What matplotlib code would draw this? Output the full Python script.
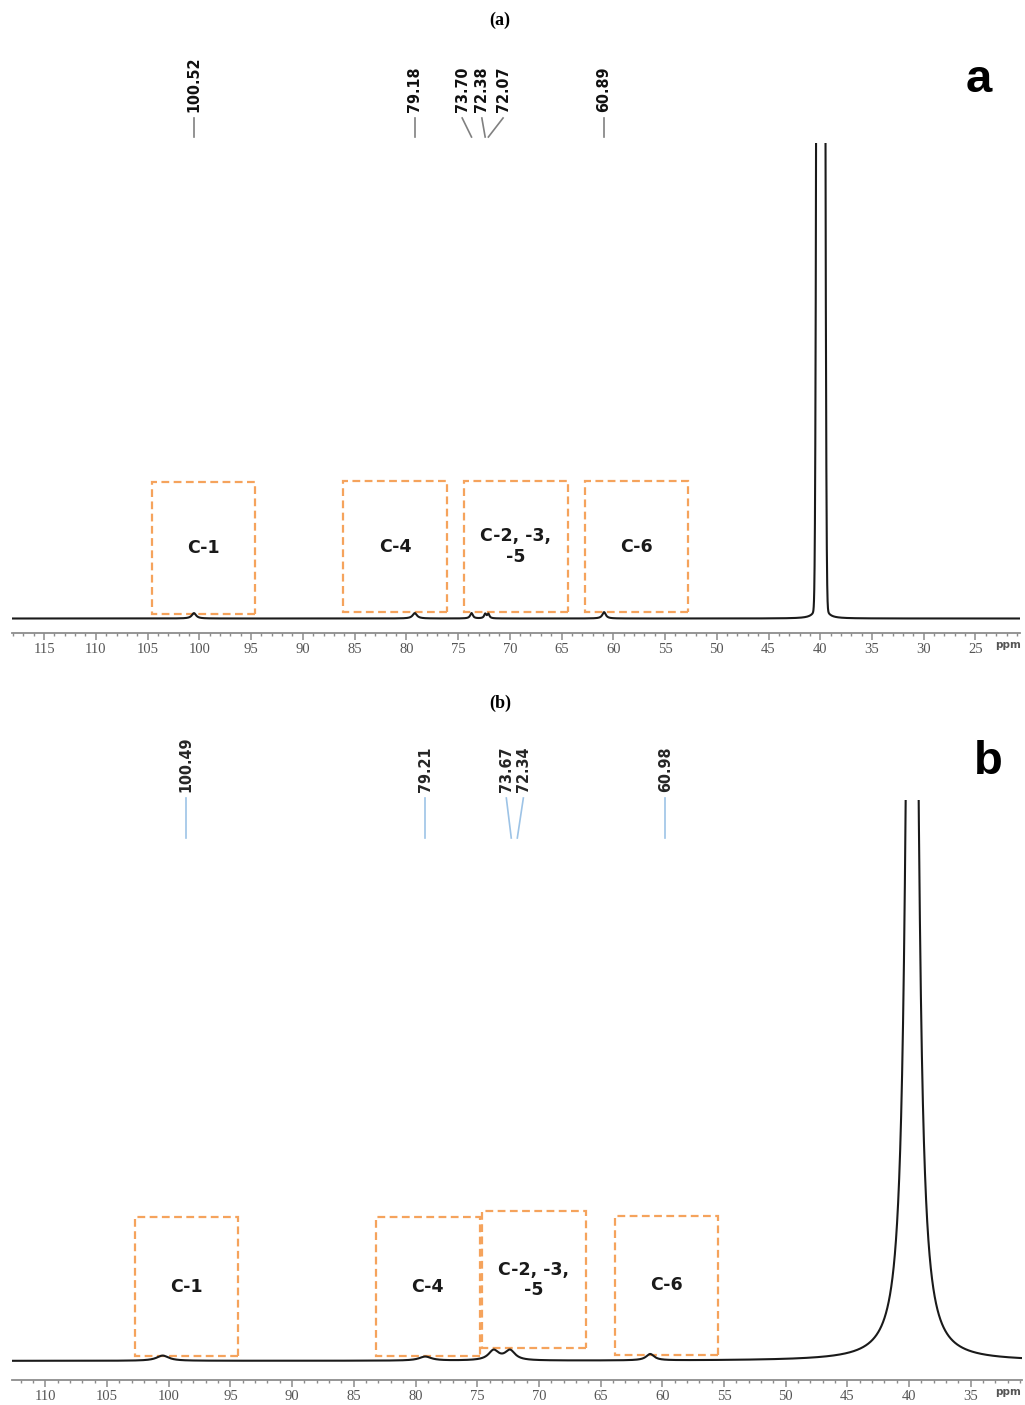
"""13C NMR spectra (a) and (b) with assignment boxes, redrawn from peak lists."""
import numpy as np
import matplotlib
matplotlib.use("Agg")
import matplotlib.pyplot as plt   # noqa: E402
from matplotlib.patches import Rectangle   # noqa: E402
from matplotlib.ticker import MultipleLocator   # noqa: E402
from matplotlib.transforms import blended_transform_factory   # noqa: E402

W, H = 1025, 1405

# ---- spectrum (a) ----
a_peaks = [100.52, 79.18, 73.70, 72.38, 72.07, 60.89]
a_heights = [0.011, 0.011, 0.011, 0.009, 0.009, 0.013]
a_widths = [0.25, 0.25, 0.15, 0.12, 0.12, 0.20]
# DMSO-d6 septet, sharp (gaussian lines) plus a small lorentzian foot
a_solvent_ppm = [40.34, 40.21, 40.08, 39.95, 39.82, 39.69, 39.56]
a_solvent_int = [0.73, 2.2, 4.4, 5.1, 4.4, 2.2, 0.73]
a_solvent_sigma = 0.10
a_foot_ppm, a_foot_h, a_foot_w = 39.95, 0.3, 0.15
a_labels = ["100.52", "79.18", "73.70", "72.38", "72.07", "60.89"]
a_label_x = [100.52, 79.18, 74.6, 72.7, 70.65, 60.89]
a_regions = ["C-1", "C-4", "C-2, -3,\n-5", "C-6"]
a_region_ppm = [(104.6, 94.6), (86.1, 76.1), (74.4, 64.4), (62.7, 52.8)]

# ---- spectrum (b) ----
b_peaks = [100.49, 79.21, 73.67, 72.34, 60.98]
b_heights = [0.009, 0.007, 0.017, 0.017, 0.011]
b_widths = [0.6, 0.6, 0.5, 0.5, 0.4]
# broadened DMSO-d6 septet (lorentzian lines)
b_solvent_ppm = [40.05, 39.95, 39.85, 39.75, 39.65, 39.55, 39.45]
b_solvent_int = [0.10, 0.29, 0.58, 0.68, 0.58, 0.29, 0.10]
b_solvent_w = 0.38
b_labels = ["100.49", "79.21", "73.67", "72.34", "60.98"]
b_label_x = [98.57, 79.2, 72.64, 71.26, 59.76]
b_label_end = [98.57, 79.2, 72.24, 71.75, 59.76]
b_regions = ["C-1", "C-4", "C-2, -3,\n-5", "C-6"]
b_region_ppm = [(102.7, 94.4), (83.2, 74.8), (74.6, 66.2), (63.8, 55.5)]

plt.rcParams["font.family"] = ["Liberation Serif", "DejaVu Serif"]

ORANGE = "#f5a35c"


def lorentz(x, centers, heights, widths):
    y = np.zeros_like(x)
    for c, h, w in zip(centers, heights, widths):
        y += h * w ** 2 / ((x - c) ** 2 + w ** 2)
    return y


def gauss(x, centers, heights, sigma):
    y = np.zeros_like(x)
    for c, h in zip(centers, heights):
        y += h * np.exp(-(x - c) ** 2 / (2 * sigma ** 2))
    return y


def px_rect(x0, y_top, x1, y_bot):
    return [x0 / W, 1 - y_bot / H, (x1 - x0) / W, (y_bot - y_top) / H]


def draw_panel(fig, rect, xlim, x, y, regions, region_ppm, region_y):
    ax = fig.add_axes(rect)
    ax.plot(x, y, color="#1a1a1a", lw=1.5)
    ax.set_xlim(*xlim)
    ax.set_ylim(0, 1)
    for s in ("top", "left", "right"):
        ax.spines[s].set_visible(False)
    ax.spines["bottom"].set_color("#8c8c8c")
    ax.spines["bottom"].set_linewidth(1.3)
    ax.set_yticks([])
    ax.xaxis.set_major_locator(MultipleLocator(5))
    ax.xaxis.set_minor_locator(MultipleLocator(1))
    ax.tick_params(axis="x", which="major", length=5, width=1.1, color="#8c8c8c",
                   labelsize=10.5, labelcolor="#555555", pad=2)
    ax.tick_params(axis="x", which="minor", length=2, width=1, color="#8c8c8c")
    ax.patch.set_alpha(0)

    tr = blended_transform_factory(ax.transData, ax.transAxes)
    for (lo_hi, lab, (y0, y1)) in zip(region_ppm, regions, region_y):
        hi, lo = lo_hi
        ax.add_patch(Rectangle((lo, y0), hi - lo, y1 - y0, transform=tr, fill=False,
                               ec=ORANGE, lw=1.6, ls=(0, (3.5, 2)), clip_on=False))
        ax.text((hi + lo) / 2, (y0 + y1) / 2, lab, transform=tr, ha="center",
                va="center", family="DejaVu Sans", fontweight="bold", fontsize=12.5,
                color="#1a1a1a", linespacing=1.15, multialignment="center")
    return ax


def peak_labels(fig, ax, labels, xs, ends, y_text, y_top, y_bot, line_color, text_color):
    tr = blended_transform_factory(ax.transData, fig.transFigure)
    for lab, lx, ex in zip(labels, xs, ends):
        ax.text(lx, 1 - y_text / H, lab, transform=tr, rotation=90, ha="center",
                va="bottom", family="DejaVu Sans", fontstretch="condensed",
                fontweight="bold", fontsize=11.5, color=text_color, clip_on=False)
        ax.plot([lx, ex], [1 - y_top / H, 1 - y_bot / H], transform=tr,
                color=line_color, lw=1.2, clip_on=False)


fig = plt.figure(figsize=(W / 100, H / 100), dpi=100)

# panel (a)
xlim_a = (118.1, 20.7)
xa = np.linspace(xlim_a[0], xlim_a[1], 80000)
ya = (0.0296 + lorentz(xa, a_peaks, a_heights, a_widths)
      + gauss(xa, a_solvent_ppm, a_solvent_int, a_solvent_sigma)
      + lorentz(xa, [a_foot_ppm], [a_foot_h], [a_foot_w]))
ax_a = draw_panel(fig, px_rect(12, 143, 1020, 633), xlim_a, xa, ya,
                  a_regions, a_region_ppm,
                  [(0.039, 0.308), (0.043, 0.310), (0.043, 0.310), (0.043, 0.310)])
peak_labels(fig, ax_a, a_labels, a_label_x, a_peaks, 112, 118, 137,
            "#808080", "#111111")

# panel (b)
xlim_b = (112.7, 30.85)
xb = np.linspace(xlim_b[0], xlim_b[1], 80000)
yb = (0.033 + lorentz(xb, b_peaks, b_heights, b_widths)
      + lorentz(xb, b_solvent_ppm, b_solvent_int, [b_solvent_w] * len(b_solvent_ppm)))
ax_b = draw_panel(fig, px_rect(12, 800, 1022, 1380), xlim_b, xb, yb,
                  b_regions, b_region_ppm,
                  [(0.041, 0.281), (0.041, 0.281), (0.055, 0.291), (0.043, 0.283)])
peak_labels(fig, ax_b, b_labels, b_label_x, b_label_end, 792, 798, 838,
            "#9dc3e6", "#262626")

for ypx, ttl in ((20, "(a)"), (703, "(b)")):
    fig.text(500 / W, 1 - ypx / H, ttl, ha="center", va="center",
             fontweight="bold", fontsize=13)
for xpx, ypx, big in ((979, 80, "a"), (988, 762, "b")):
    fig.text(xpx / W, 1 - ypx / H, big, ha="center", va="center",
             family="Liberation Sans", fontweight="bold", fontsize=34)
for ypx in (645, 1392):
    fig.text(1021 / W, 1 - ypx / H, "ppm", ha="right", va="center",
             family="DejaVu Sans", fontweight="bold", fontsize=7.5, color="#555555")

fig.savefig("out.png", dpi=100)
plt.close(fig)
